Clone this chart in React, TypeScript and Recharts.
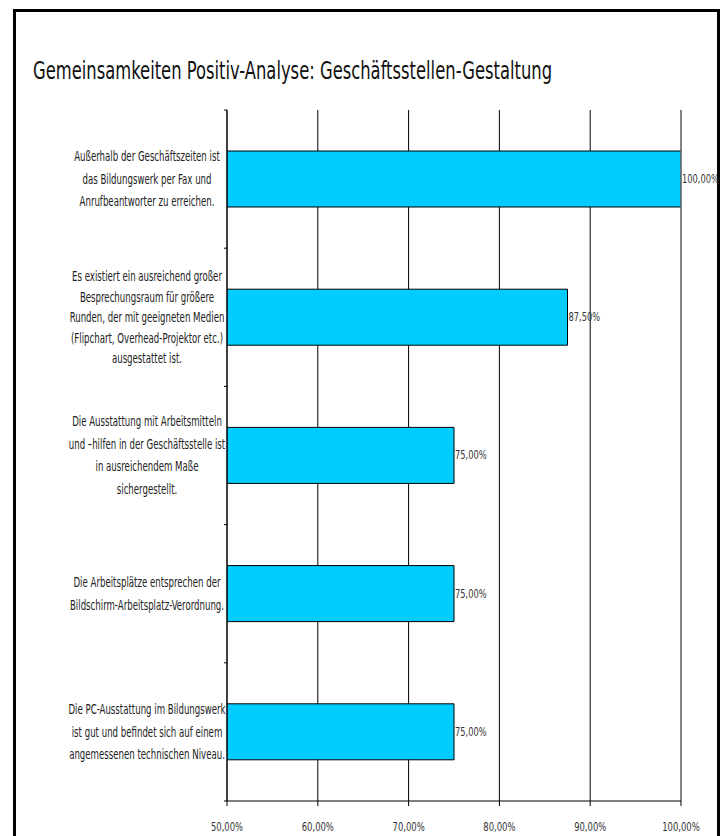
import React from 'react';
import { BarChart, Bar, XAxis, YAxis, CartesianGrid, ReferenceLine, LabelList } from 'recharts';

const categories = [
  'Außerhalb der Geschäftszeiten ist\ndas Bildungswerk per Fax und\nAnrufbeantworter zu erreichen.',
  'Es existiert ein ausreichend großer\nBesprechungsraum für größere\nRunden, der mit geeigneten Medien\n(Flipchart, Overhead-Projektor etc.)\nausgestattet ist.',
  'Die Ausstattung mit Arbeitsmitteln\nund –hilfen in der Geschäftsstelle ist\nin ausreichendem Maße\nsichergestellt.',
  'Die Arbeitsplätze entsprechen der\nBildschirm-Arbeitsplatz-Verordnung.',
  'Die PC-Ausstattung im Bildungswerk\nist gut und befindet sich auf einem\nangemessenen technischen Niveau.',
];

const values = [1.0, 0.875, 0.75, 0.75, 0.75];

const xTicks = [0.5, 0.6, 0.7, 0.8, 0.9, 1.0];

const title = 'Gemeinsamkeiten Positiv-Analyse: Geschäftsstellen-Gestaltung';

const data = categories.map((label, i) => ({ label, value: values[i] }));

const FONT = '"DejaVu Sans Condensed", sans-serif';

const pct = (v: number) => (v * 100).toFixed(2).replace('.', ',') + '%';

// labels in the original are very condensed, so squeeze them horizontally
const CategoryTick = (props: any) => {
  const { x, y, payload, index } = props;
  const lines = String(payload.value).split('\n');
  const lh = lines.length > 4 ? 20.5 : 22.5;
  const half = payload.offset ?? 0;
  const startY = y - ((lines.length - 1) * lh) / 2;
  return (
    <g>
      <line x1={x - 3} x2={x} y1={y - half} y2={y - half} stroke="#000" />
      {index === categories.length - 1 && (
        <line x1={x - 3} x2={x} y1={y + half} y2={y + half} stroke="#000" />
      )}
      {lines.map((line, i) => (
        <text
          key={i}
          x={0}
          y={0}
          transform={`translate(${x - 80},${startY + i * lh}) scale(0.66,1)`}
          textAnchor="middle"
          dominantBaseline="central"
          fontFamily={FONT}
          fontSize={14.5}
          fill="#222"
        >
          {line}
        </text>
      ))}
    </g>
  );
};

const PercentTick = (props: any) => {
  const { x, y, payload } = props;
  return (
    <text
      x={0}
      y={0}
      dy="0.72em"
      transform={`translate(${x},${y}) scale(0.75,1)`}
      textAnchor="middle"
      fontFamily={FONT}
      fontSize={12.5}
      fill="#333"
    >
      {pct(payload.value)}
    </text>
  );
};

const ValueLabel = (props: any) => {
  const { x, y, width, height, value } = props;
  return (
    <text
      x={0}
      y={0}
      transform={`translate(${x + width + 1},${y + height / 2}) scale(0.71,1)`}
      textAnchor="start"
      dominantBaseline="central"
      fontFamily={FONT}
      fontSize={13}
      fill="#333"
    >
      {pct(Number(value))}
    </text>
  );
};

export default function App() {
  return (
    <div style={{ position: 'absolute', left: 0, top: 0, width: 726, height: 836, background: '#fff' }}>
      <div
        style={{
          position: 'absolute',
          left: 13,
          top: 9,
          width: 707,
          height: 827,
          boxSizing: 'border-box',
          borderLeft: '3px solid #000',
          borderTop: '3px solid #000',
          borderRight: '3px solid #000',
        }}
      />
      <div
        style={{
          position: 'absolute',
          left: 33,
          top: 58,
          fontFamily: FONT,
          fontSize: 25,
          lineHeight: '25px',
          whiteSpace: 'nowrap',
          color: '#111',
          transform: 'scaleX(0.728)',
          transformOrigin: 'left top',
        }}
      >
        {title}
      </div>
      <div style={{ position: 'absolute', left: 0, top: 0 }}>
        <BarChart
          width={726}
          height={836}
          data={data}
          layout="vertical"
          margin={{ top: 110, right: 45, bottom: 5, left: 0 }}
          barSize={56}
        >
          <CartesianGrid horizontal={false} stroke="#000" />
          <XAxis
            type="number"
            domain={[0.5, 1]}
            ticks={xTicks}
            allowDataOverflow
            height={30}
            tickSize={5}
            tickMargin={16}
            axisLine={{ stroke: '#000' }}
            tickLine={{ stroke: '#000' }}
            tick={<PercentTick />}
          />
          <XAxis
            xAxisId="top"
            orientation="top"
            type="number"
            domain={[0.5, 1]}
            height={0}
            tick={false}
            tickLine={false}
            axisLine={{ stroke: '#888' }}
          />
          <YAxis
            type="category"
            dataKey="label"
            width={227}
            tickSize={0}
            tickMargin={0}
            tickLine={false}
            axisLine={{ stroke: '#000' }}
            tick={<CategoryTick />}
            interval={0}
          />
          <ReferenceLine x={1} stroke="#888" />
          <Bar dataKey="value" fill="#00CCFF" stroke="#000" strokeWidth={1} isAnimationActive={false}>
            <LabelList dataKey="value" content={<ValueLabel />} />
          </Bar>
        </BarChart>
      </div>
    </div>
  );
}
